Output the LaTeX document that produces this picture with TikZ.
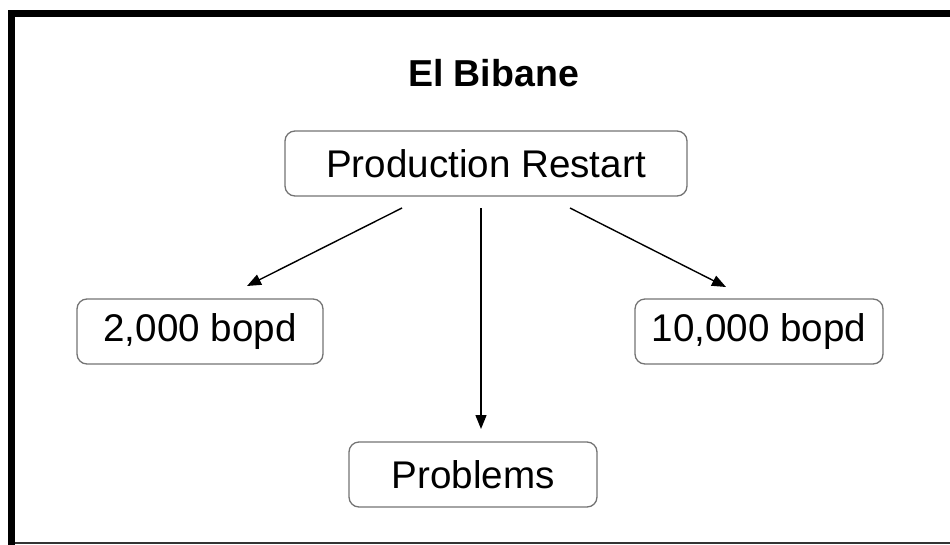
\documentclass[tikz,border=0pt]{standalone}
\usepackage{fontspec}
\setmainfont{Liberation Sans}
\usepackage{tikz}
\usetikzlibrary{arrows.meta}

\tikzset{
    stagebox/.style={draw=black!55, line width=1.3pt, rounded corners=10pt,
        minimum height=65pt, inner sep=0pt, font=\fontsize{38.6}{46}\selectfont},
    flow/.style={line width=1.4pt, -{Triangle[length=14pt, width=11pt]}},
}

\begin{document}
\begin{tikzpicture}[x=1pt, y=-1pt]
    \useasboundingbox (0, 0) rectangle (950, 544); % page size of the slide
    \draw[line width=7pt, miter limit=10] (11.5, 560) -- (11.5, 13.5) -- (960, 13.5);
    \draw[line width=1.5pt, black!80] (15, 543.2) -- (950, 543.2);

    \node[font=\bfseries\fontsize{37.5}{45}\selectfont] (title) at (493.5, 73) {El Bibane};
    \node[stagebox, minimum width=402pt] (restart) at (486, 163.5) {Production Restart};
    \node[stagebox, minimum width=246pt] (low) at (200, 331.5) {2,000 bopd};
    \node[stagebox, minimum width=248pt] (high) at (759, 331.5) {10,000 bopd};
    \node[stagebox, minimum width=248pt] (problems) at (473, 474.5) {Problems};

    \coordinate (low-from) at (402, 208);
    \coordinate (low-to) at (247, 286);
    \coordinate (mid-from) at (481, 208);
    \coordinate (mid-to) at (481, 429);
    \coordinate (high-from) at (570, 208);
    \coordinate (high-to) at (726, 287);
    \draw[flow] (low-from) -- (low-to);
    \draw[flow] (mid-from) -- (mid-to);
    \draw[flow] (high-from) -- (high-to);
\end{tikzpicture}
\end{document}
